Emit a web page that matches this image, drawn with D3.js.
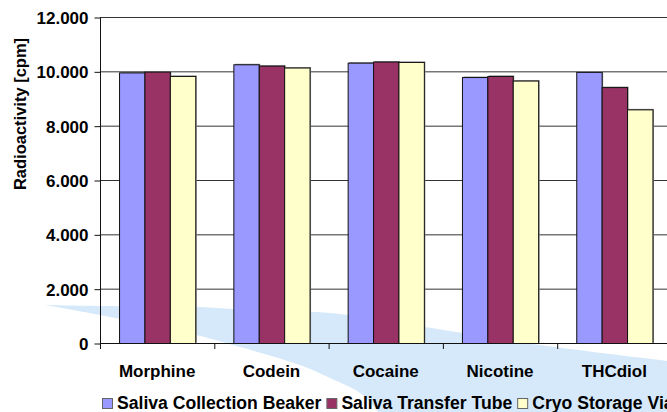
<!DOCTYPE html>
<html>
<head>
<meta charset="utf-8">
<script src="https://cdn.jsdelivr.net/npm/d3@7/dist/d3.min.js"></script>
<style>
  html, body { margin: 0; padding: 0; background: #fff; }
  svg { display: block; font-family: "Liberation Sans", Arial, sans-serif; font-weight: bold; }
</style>
</head>
<body>
<svg id="chart" width="667" height="412"></svg>
<script>
// Substances tested and the three containers compared
const categories = ["Morphine", "Codein", "Cocaine", "Nicotine", "THCdiol"];
const seriesNames = ["Saliva Collection Beaker", "Saliva Transfer Tube", "Cryo Storage Vial"];
const seriesColors = ["#9999FF", "#993366", "#FFFFCC"];

// Radioactivity [cpm] per substance, one array per container
const beaker = [9960, 10260, 10320, 9790, 9980];
const transferTube = [9990, 10210, 10360, 9830, 9420];
const cryoVial = [9830, 10140, 10345, 9660, 8600];

const yTicks = [0, 2000, 4000, 6000, 8000, 10000, 12000];

const series = [beaker, transferTube, cryoVial];

const svg = d3.select("#chart");

// Decorative light-blue swoosh in the background
const swooshTop = [[45, 305], [100, 306], [200, 307], [233, 309], [330, 313], [424, 327], [463, 333], [540, 345], [667, 361], [690, 364]];
const swooshBottom = [[690, 440], [390, 440], [378, 412], [360, 393], [330, 378], [300, 365], [233, 345], [196, 335], [100, 315], [45, 305]];
svg.append("path")
  .attr("d", d3.line().curve(d3.curveCatmullRom)(swooshTop) + "L" + d3.line().curve(d3.curveCatmullRom)(swooshBottom).slice(1) + "Z")
  .attr("fill", "#d5e9fa");

const plotLeft = 100, plotRight = 671.5, plotTop = 17, plotBottom = 343;

const x0 = d3.scaleBand().domain(categories).range([plotLeft, plotRight]).padding(0);
const bw = x0.bandwidth();
const x1 = d3.scaleBand().domain(d3.range(seriesNames.length)).range([bw / 6, bw * 5 / 6]).padding(0);
const y = d3.scaleLinear().domain([0, 12000]).range([plotBottom, plotTop]);

const deFormat = d3.formatLocale({ decimal: ",", thousands: ".", grouping: [3], currency: ["", ""] }).format(",d");

// Horizontal gridlines
svg.append("g")
  .selectAll("line")
  .data(yTicks.filter(d => d > 0))
  .join("line")
  .attr("x1", plotLeft).attr("x2", 667)
  .attr("y1", d => y(d) + 0.5).attr("y2", d => y(d) + 0.5)
  .attr("stroke", "#333").attr("stroke-width", 1);

// Bars with a faint drop shadow
const groups = svg.append("g")
  .selectAll("g")
  .data(categories)
  .join("g")
  .attr("transform", d => `translate(${x0(d)},0)`);

const barData = (c, i) => series.map((s, k) => ({ k, v: s[i] }));

groups.selectAll("rect.shadow")
  .data(barData)
  .join("rect")
  .attr("class", "shadow")
  .attr("x", d => x1(d.k) + 1.5)
  .attr("y", d => y(d.v) - 0.5)
  .attr("width", x1.bandwidth())
  .attr("height", d => plotBottom - y(d.v))
  .attr("fill", "#8a8a8a");

groups.selectAll("rect.bar")
  .data(barData)
  .join("rect")
  .attr("class", "bar")
  .attr("x", d => x1(d.k) + 0.5)
  .attr("y", d => y(d.v) + 0.5)
  .attr("width", x1.bandwidth())
  .attr("height", d => plotBottom - y(d.v))
  .attr("fill", d => seriesColors[d.k])
  .attr("stroke", "#111")
  .attr("stroke-width", 1);

// Y axis
const yAxis = svg.append("g")
  .attr("transform", `translate(${plotLeft + 0.5},0.5)`)
  .call(d3.axisLeft(y).tickValues(yTicks).tickFormat(deFormat).tickSize(6).tickPadding(6));
yAxis.select(".domain").attr("stroke", "#111").attr("d", `M-0,${plotTop}V${plotBottom}`);
yAxis.selectAll(".tick line").attr("stroke", "#111");
yAxis.selectAll(".tick text")
  .attr("fill", "#000")
  .style("font-family", "'Liberation Sans', Arial, sans-serif")
  .style("font-weight", "bold")
  .style("font-size", "17px")
  .attr("dy", "0.36em");

// X axis: line along zero with ticks at category boundaries
const xAxisG = svg.append("g");
xAxisG.append("line")
  .attr("x1", plotLeft).attr("x2", 667)
  .attr("y1", plotBottom + 0.5).attr("y2", plotBottom + 0.5)
  .attr("stroke", "#111");
xAxisG.selectAll("line.tick")
  .data(categories)
  .join("line")
  .attr("class", "tick")
  .attr("x1", d => x0(d) + 0.5).attr("x2", d => x0(d) + 0.5)
  .attr("y1", plotBottom).attr("y2", plotBottom + 6)
  .attr("stroke", "#111");
xAxisG.selectAll("text")
  .data(categories)
  .join("text")
  .attr("x", d => x0(d) + bw / 2)
  .attr("y", 377)
  .attr("text-anchor", "middle")
  .attr("font-size", 17)
  .attr("fill", "#000")
  .text(d => d);

// Y axis title
svg.append("text")
  .attr("transform", "translate(26,114) rotate(-90)")
  .attr("text-anchor", "middle")
  .attr("font-size", 16.5)
  .attr("fill", "#000")
  .text("Radioactivity [cpm]");

// Legend laid out left to right
const legend = svg.append("g");
let lx = 102;
seriesNames.forEach((name, k) => {
  legend.append("rect")
    .attr("x", lx + 0.5).attr("y", 398.5)
    .attr("width", 10).attr("height", 10)
    .attr("fill", seriesColors[k])
    .attr("stroke", "#666");
  const t = legend.append("text")
    .attr("x", lx + 15)
    .attr("y", 409)
    .attr("font-size", 17.6)
    .attr("fill", "#000")
    .text(name);
  lx += 15 + t.node().getComputedTextLength() + 5;
});
</script>
</body>
</html>
